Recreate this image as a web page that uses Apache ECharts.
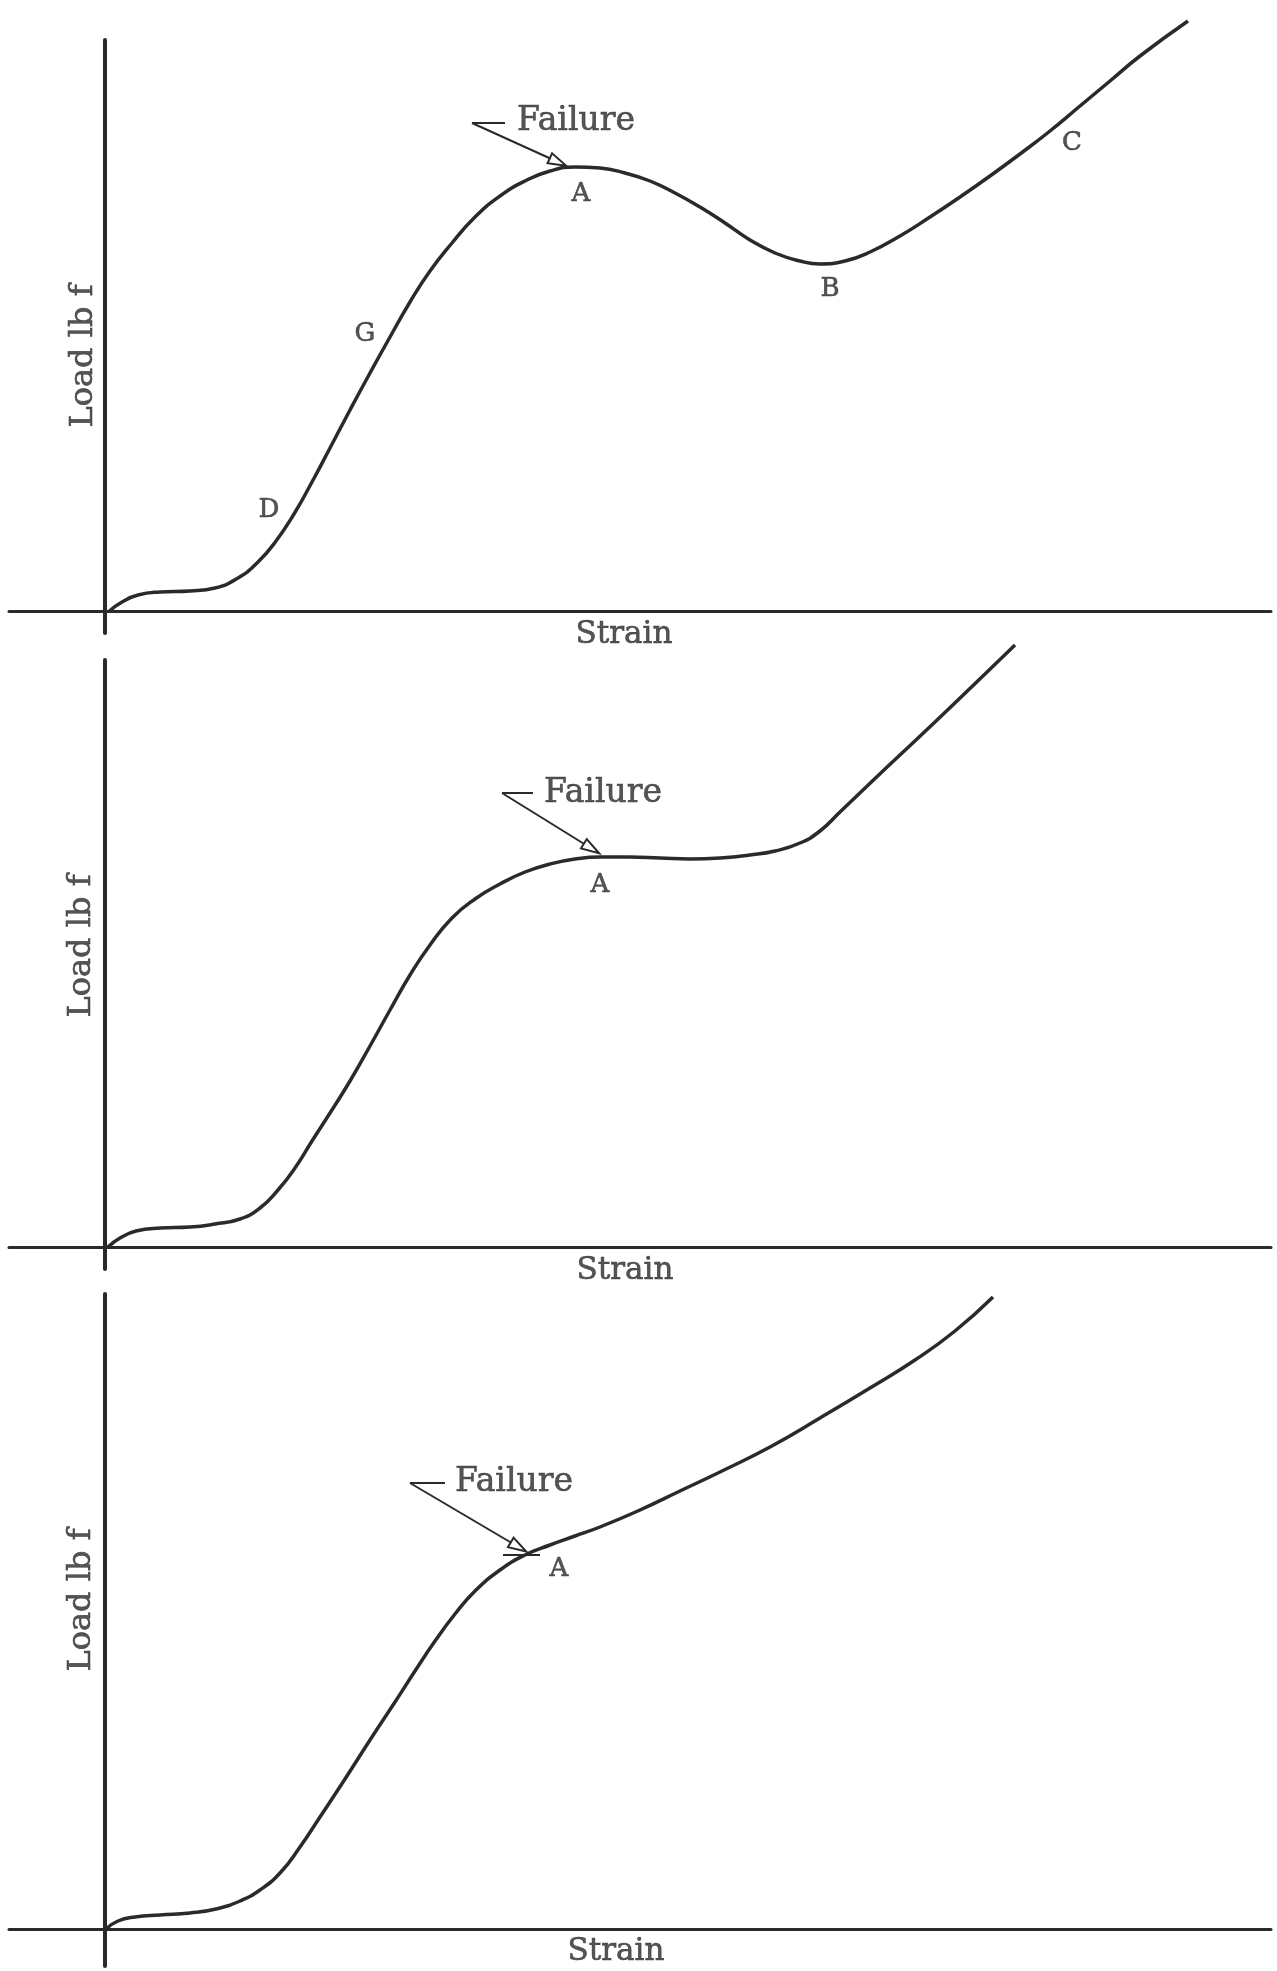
<!DOCTYPE html>
<html><head><meta charset="utf-8">
<script src="https://cdn.jsdelivr.net/npm/echarts@6/dist/echarts.min.js"></script>
<style>html,body{margin:0;padding:0;background:#fff}#chart{width:1277px;height:1971px}</style>
</head><body><div id="chart"></div>
<script>
// ---- Panel 1 (failure at A, drop to B, rise through C)
const strain1 = [0.5, 1.75, 3.35, 5.55, 8.55, 11.05, 13.35, 15.35, 17.15, 18.95, 20.75, 22.55, 24.55, 26.55, 28.55, 30.55, 32.55, 34.75, 37.05, 39.55, 42.05, 44.55, 47.05, 49.55, 52.05, 54.55, 57.05, 59.55, 62.05, 64.55, 67.05, 69.55, 71.55, 74.05, 76.55, 79.55, 82.55, 85.55, 88.55, 91.55, 94.55, 97.55, 100.55, 103.55, 108.35];
const load1   = [0, 1.8, 3.2, 3.8, 4.0, 4.6, 6.6, 9.8, 14.0, 19.4, 25.8, 32.6, 40.2, 47.6, 54.8, 61.8, 68.0, 73.6, 78.8, 83.0, 86.0, 88.0, 88.8, 88.6, 87.6, 86.0, 83.6, 80.8, 77.6, 74.2, 71.6, 70.0, 69.4, 70.0, 71.8, 75.0, 78.8, 82.8, 87.0, 91.4, 96.0, 101.0, 106.0, 111.0, 118.0];
const marks1       = ['A', 'B', 'C', 'D', 'G'];
const marks1Strain = [47.65, 72.55, 96.75, 16.45, 26.05];
const marks1Load   = [83.4, 64.4, 93.6, 20.2, 55.4];

// ---- Panel 2 (failure at A, plateau, rise)
const strain2 = [0.35, 1.55, 3.15, 5.55, 8.55, 11.05, 13.55, 15.55, 17.35, 19.05, 20.75, 22.55, 24.55, 26.55, 28.55, 30.55, 32.55, 34.75, 37.05, 39.55, 42.05, 44.55, 47.05, 49.55, 52.55, 55.55, 58.55, 61.55, 64.55, 67.05, 69.55, 71.55, 73.55, 78.05, 83.05, 88.05, 91.05];
const load2   = [0, 1.8, 3.2, 3.8, 4.0, 4.6, 5.6, 7.8, 11.4, 15.8, 21.2, 26.8, 33.2, 40.2, 47.4, 54.4, 60.4, 65.8, 69.6, 72.6, 75.0, 76.6, 77.6, 78.0, 78.0, 77.8, 77.6, 77.8, 78.4, 79.2, 80.8, 83.2, 87.0, 95.6, 105.0, 114.6, 120.4];
const marks2       = ['A'];
const marks2Strain = [49.55];
const marks2Load   = [72.4];

// ---- Panel 3 (failure at A, continued rise)
const strain3 = [0.15, 1.35, 3.05, 5.55, 8.55, 11.15, 13.55, 15.55, 17.55, 19.55, 21.55, 24.05, 26.55, 29.05, 31.05, 33.05, 35.05, 37.05, 39.55, 42.05, 44.55, 47.05, 49.55, 53.55, 57.55, 61.55, 66.55, 71.55, 76.55, 81.05, 85.05, 88.85];
const load3   = [0, 1.6, 2.4, 2.8, 3.2, 4.0, 5.6, 7.8, 11.2, 16.4, 22.4, 30.0, 37.8, 45.4, 51.6, 57.6, 63.0, 67.6, 71.8, 74.8, 76.8, 78.6, 80.4, 83.8, 87.6, 91.4, 96.4, 102.2, 108.2, 113.8, 119.6, 126.4];
const marks3       = ['A'];
const marks3Strain = [45.45];
const marks3Load   = [72.0];

// ---- Text / arrow anchors in [strain, load] units, one per panel
const failureText = 'Failure';
const failureAt   = [[47.15, 98.0], [49.85, 90.8], [40.95, 89.4]];
const arrowTail   = [[36.75, 97.6], [39.75, 90.8], [30.55, 89.2]];
const arrowTick   = [[40.05, 97.6], [42.85, 90.8], [34.05, 89.2]];
const arrowHead   = [[45.35, 89.8], [48.7, 79.7], [41.4, 76.4]];
const tickAtA3    = [[39.85, 74.8], [43.55, 74.8]];
const xTitle = 'Strain';
const yTitle = 'Load lb f';
const xTitleAt = [[51.95, -4.8], [52.05, -4.8], [51.15, -4.6]];
const yTitleAt = [[-2.05, 51.0], [-2.25, 60.2], [-2.25, 65.8]];

// axis ranges
const xRange  = [-9.55, 116.65];
const yRanges = [[-4.4, 114.2], [-4.4, 117.4], [-7.4, 127]];

const INK = '#2a2a2a';
const FONT = '"DejaVu Serif", "Liberation Serif", serif';

const grids = [
  { left: 9, width: 1262, top: 40, height: 593 },
  { left: 9, width: 1262, top: 660, height: 609 },
  { left: 9, width: 1262, top: 1294, height: 672 }
];

const curves = [[strain1, load1], [strain2, load2], [strain3, load3]];
const marks = [[marks1, marks1Strain, marks1Load], [marks2, marks2Strain, marks2Load], [marks3, marks3Strain, marks3Load]];

const xAxes = [], yAxes = [], series = [];
for (let i = 0; i < 3; i++) {
  xAxes.push({
    type: 'value', gridIndex: i, min: xRange[0], max: xRange[1],
    axisLine: { show: true, onZero: true, lineStyle: { color: INK, width: 3 } },
    axisTick: { show: false }, axisLabel: { show: false }, splitLine: { show: false }
  });
  yAxes.push({
    type: 'value', gridIndex: i, min: yRanges[i][0], max: yRanges[i][1],
    axisLine: { show: true, onZero: true, lineStyle: { color: INK, width: 4 } },
    axisTick: { show: false }, axisLabel: { show: false }, splitLine: { show: false }
  });
  const xs = curves[i][0], ys = curves[i][1];
  series.push({
    type: 'line', xAxisIndex: i, yAxisIndex: i, clip: false,
    data: xs.map((x, k) => [x, ys[k]]),
    smooth: 0.5, showSymbol: false, silent: true,
    lineStyle: { color: INK, width: 3.5 }
  });
  const texts = [];
  const [mNames, mX, mY] = marks[i];
  mNames.forEach((n, k) => texts.push({ value: [mX[k], mY[k], n], label: { fontSize: 26 } }));
  texts.push({ value: [failureAt[i][0], failureAt[i][1], failureText], label: { fontSize: 33 } });
  texts.push({ value: [xTitleAt[i][0], xTitleAt[i][1], xTitle], label: { fontSize: 31 } });
  texts.push({ value: [yTitleAt[i][0], yTitleAt[i][1], yTitle], label: { fontSize: 32, rotate: 90 } });

  const ml = [
    [{ coord: arrowTail[i], symbol: 'none' }, { coord: arrowHead[i], symbol: 'emptyTriangle', symbolSize: [11, 18] }],
    [{ coord: arrowTail[i], symbol: 'none' }, { coord: arrowTick[i], symbol: 'none' }]
  ];
  if (i === 2) ml.push([{ coord: tickAtA3[0], symbol: 'none' }, { coord: tickAtA3[1], symbol: 'none' }]);

  series.push({
    type: 'scatter', xAxisIndex: i, yAxisIndex: i, clip: false, silent: true,
    symbolSize: 1, itemStyle: { color: 'rgba(0,0,0,0)' },
    data: texts,
    label: {
      show: true, position: 'inside', formatter: p => p.value[2],
      fontFamily: FONT, color: INK, textBorderColor: INK, textBorderWidth: 0.6
    },
    markLine: {
      silent: true, symbol: ['none', 'emptyTriangle'], symbolSize: [11, 18],
      label: { show: false },
      lineStyle: { type: 'solid', color: INK, width: 2 },
      data: ml
    }
  });
}

const chart = echarts.init(document.getElementById('chart'));
chart.setOption({
  backgroundColor: '#ffffff',
  animation: false,
  grid: grids,
  xAxis: xAxes,
  yAxis: yAxes,
  series: series
});
</script>
</body></html>
